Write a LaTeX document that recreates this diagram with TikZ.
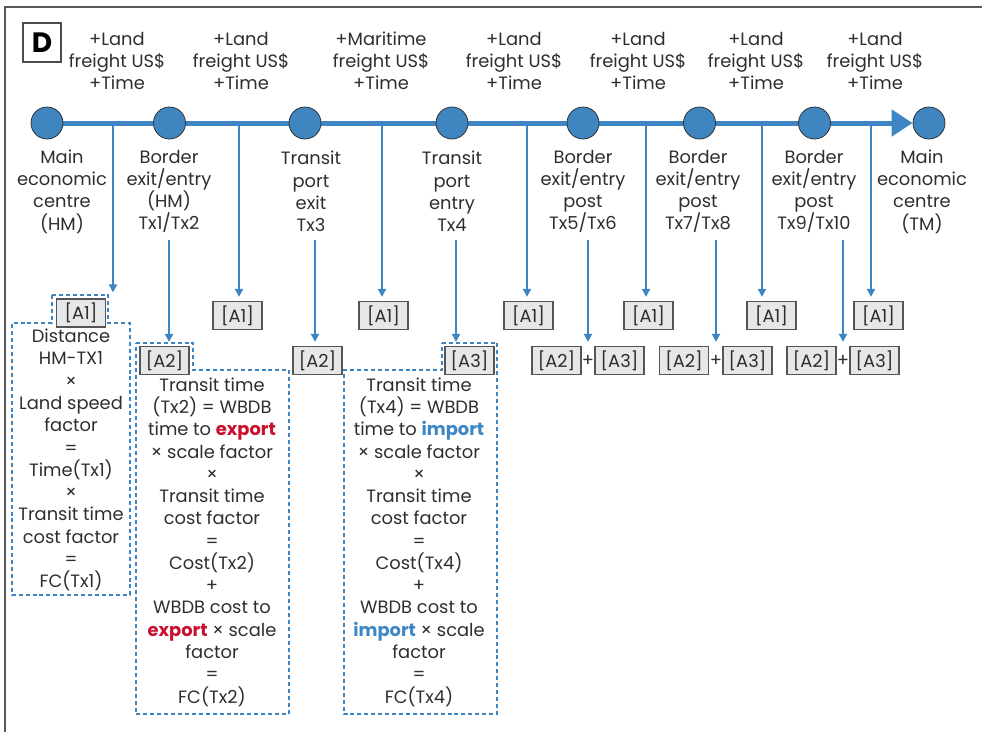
\documentclass[tikz,border=0pt]{standalone}
\usepackage{fontspec}
\setmainfont{Poppins}
\usetikzlibrary{arrows.meta,backgrounds}
\definecolor{lineblue}{HTML}{3D86C3}
\definecolor{circblue}{HTML}{3F86C1}
\definecolor{txt}{HTML}{2E2E2E}
\definecolor{boxfill}{HTML}{E6E7E8}
\definecolor{boxdraw}{HTML}{555555}
\definecolor{exportred}{HTML}{C8102E}
\definecolor{importblue}{HTML}{3D87C4}
\newcommand{\expw}{\textcolor{exportred}{\bfseries export}}
\newcommand{\impw}{\textcolor{importblue}{\bfseries import}}
\begin{document}
\begin{tikzpicture}[x=0.75pt,y=-0.75pt,
  every node/.style={text=txt,font=\fontsize{13.4}{16.7}\selectfont},
  lab/.style={align=center,inner sep=0pt},
  circ/.style={circle,draw=black!80,fill=circblue,minimum size=24pt,inner sep=0pt,line width=0.6pt},
  abox/.style={draw=boxdraw,fill=boxfill,minimum width=36.75pt,minimum height=21pt,inner sep=0pt,line width=0.9pt},
  arr/.style={draw=lineblue,line width=1.5pt,-{Triangle[length=6pt,width=6pt]}},
  dashbox/.style={draw=lineblue,line width=1.4pt,dash pattern=on 3pt off 2.2pt},
  frameline/.style={draw=black!65,line width=1.2pt},
]
\useasboundingbox (0,0) rectangle (982,732);
% frame
\draw[frameline] (5,732) -- (5,7) -- (982,7);
\node[draw=black!70,line width=1.1pt,minimum width=28.5pt,minimum height=29.25pt,inner sep=0pt,text=black,font=\fontsize{21}{21}\selectfont\bfseries] (dbox) at (42,42.5) {D};

% top cost labels
\node[lab] (f1) at (117,61) {+Land\\freight US\$\\+Time};
\node[lab] (f2) at (241,61) {+Land\\freight US\$\\+Time};
\node[lab] (f3) at (381,61) {+Maritime\\freight US\$\\+Time};
\node[lab] (f4) at (514,61) {+Land\\freight US\$\\+Time};
\node[lab] (f5) at (638,61) {+Land\\freight US\$\\+Time};
\node[lab] (f6) at (756,61) {+Land\\freight US\$\\+Time};
\node[lab] (f7) at (875,61) {+Land\\freight US\$\\+Time};

% circles
\node[circ] (c1) at (47,123) {};
\node[circ] (c2) at (169.5,123) {};
\node[circ] (c3) at (305,123) {};
\node[circ] (c4) at (452,123) {};
\node[circ] (c5) at (583,123) {};
\node[circ] (c6) at (699.5,123) {};
\node[circ] (c7) at (814.5,123) {};
\node[circ] (c8) at (929,123) {};
\begin{scope}[on background layer]
\draw[draw=lineblue,line width=3.75pt,-{Triangle[length=15.75pt,width=19.5pt]}] (c1.center) -- (c8.west);
\end{scope}

% labels under circles
\node[lab] (l1) at (62,191.5) {Main\\economic\\centre\\(HM)};
\node[lab] (l2) at (169,191.5) {Border\\exit/entry\\(HM)\\Tx1/Tx2};
\node[lab] (l3) at (311,191.5) {Transit\\port\\exit\\Tx3};
\node[lab] (l4) at (452,191.5) {Transit\\port\\entry\\Tx4};
\node[lab] (l5) at (583,191.5) {Border\\exit/entry\\post\\Tx5/Tx6};
\node[lab] (l6) at (698,191.5) {Border\\exit/entry\\post\\Tx7/Tx8};
\node[lab] (l7) at (814,191.5) {Border\\exit/entry\\post\\Tx9/Tx10};
\node[lab] (l8) at (922,191.5) {Main\\economic\\centre\\(TM)};

% dashed outlines
\draw[dashbox] (52,295) -- (108,295) -- (108,323) -- (130,323) -- (130,595) -- (12,595) -- (12,323) -- (52,323) -- cycle;
\draw[dashbox] (136,343) -- (193,343) -- (193,370) -- (289,370) -- (289,714) -- (136,714) -- cycle;
\draw[dashbox] (442,343) -- (497,343) -- (497,714) -- (344,714) -- (344,370) -- (442,370) -- cycle;

% A1 boxes
\node[abox] (a1a) at (81,313) {[A1]};
\node[abox] (a1b) at (237.5,315.5) {[A1]};
\node[abox] (a1c) at (383.5,315.5) {[A1]};
\node[abox] (a1d) at (528.5,315.5) {[A1]};
\node[abox] (a1e) at (648.5,315.5) {[A1]};
\node[abox] (a1f) at (771.5,315.5) {[A1]};
\node[abox] (a1g) at (878.5,315.5) {[A1]};

% A2 / A3 boxes
\node[abox] (a2a) at (164.5,360.5) {[A2]};
\node[abox] (a2b) at (317.5,360.5) {[A2]};
\node[abox] (a3a) at (469.5,360.5) {[A3]};
\node[abox] (a2c) at (556.5,360.5) {[A2]};
\node (pc) at (588,360.5) {+};
\node[abox] (a3c) at (619.5,360.5) {[A3]};
\node[abox] (a2d) at (684,360.5) {[A2]};
\node (pd) at (716,360.5) {+};
\node[abox] (a3d) at (747.5,360.5) {[A3]};
\node[abox] (a2e) at (811.5,360.5) {[A2]};
\node (pe) at (843,360.5) {+};
\node[abox] (a3e) at (874.5,360.5) {[A3]};

% formula texts
\node[lab] (t1) at (71,460) {Distance\\HM-TX1\\×\\Land speed\\factor\\=\\Time(Tx1)\\×\\Transit time\\cost factor\\=\\FC(Tx1)};
\node[lab] (t2) at (212,542) {Transit time\\(Tx2) = WBDB\\time to \expw\\× scale factor\\×\\Transit time\\cost factor\\=\\Cost(Tx2)\\+\\WBDB cost to\\\expw{} × scale\\factor\\=\\FC(Tx2)};
\node[lab] (t3) at (419,542) {Transit time\\(Tx4) = WBDB\\time to \impw\\× scale factor\\×\\Transit time\\cost factor\\=\\Cost(Tx4)\\+\\WBDB cost to\\\impw{} × scale\\factor\\=\\FC(Tx4)};

% drop lines from the main route
\coordinate (d1) at (113,123);
\coordinate (d2) at (239,123);
\coordinate (d3) at (382,123);
\coordinate (d4) at (527,123);
\coordinate (d5) at (646,123);
\coordinate (d6) at (762,123);
\coordinate (d7) at (871,123);
\draw[arr,shorten >=4.5pt] (d1) -- (d1 |- a1a.north);
\draw[arr,shorten >=3pt] (d2) -- (d2 |- a1b.north);
\draw[arr,shorten >=3pt] (d3) -- (d3 |- a1c.north);
\draw[arr,shorten >=3pt] (d4) -- (d4 |- a1d.north);
\draw[arr,shorten >=3pt] (d5) -- (d5 |- a1e.north);
\draw[arr,shorten >=3pt] (d6) -- (d6 |- a1f.north);
\draw[arr,shorten >=3pt] (d7) -- (d7 |- a1g.north);

% arrows from the node labels
\coordinate (s2) at (169,240);
\coordinate (s3) at (315,240);
\coordinate (s4) at (456,240);
\coordinate (s5) at (588,240);
\coordinate (s6) at (716,240);
\coordinate (s7) at (843,240);
\draw[arr,shorten >=3pt] (s2) -- (s2 |- a2a.north);
\draw[arr,shorten >=3pt] (s3) -- (s3 |- a2b.north);
\draw[arr,shorten >=3pt] (s4) -- (s4 |- a3a.north);
\draw[arr,shorten >=3pt] (s5) -- (s5 |- a2c.north);
\draw[arr,shorten >=3pt] (s6) -- (s6 |- a2d.north);
\draw[arr,shorten >=3pt] (s7) -- (s7 |- a2e.north);
\end{tikzpicture}
\end{document}
